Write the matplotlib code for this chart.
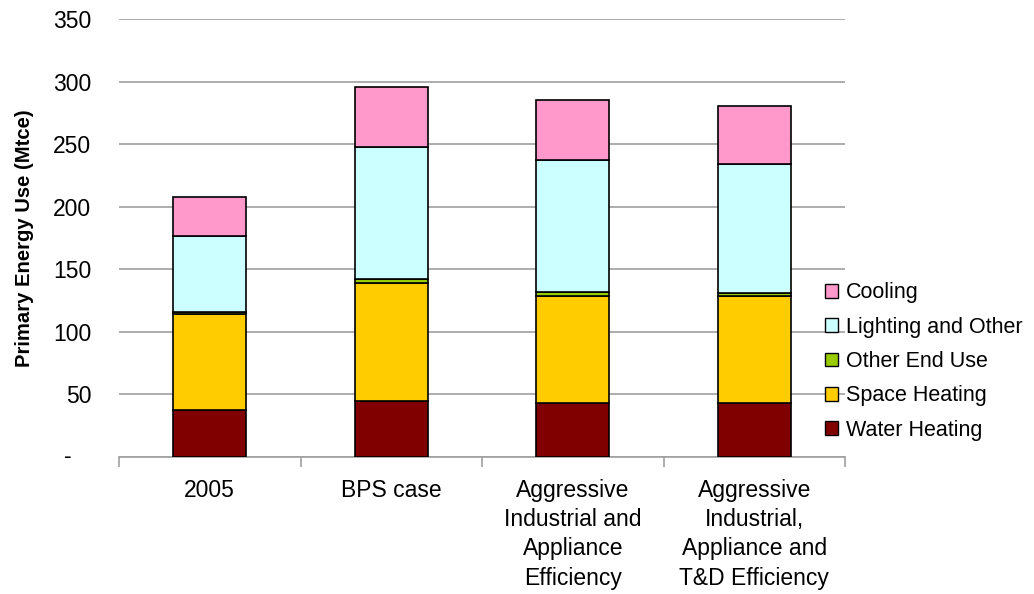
import numpy as np
import matplotlib.pyplot as plt
from matplotlib.patches import Patch

plt.rcParams['font.family'] = ['Liberation Sans', 'DejaVu Sans']

scenarios = ['2005', 'BPS case', 'Aggressive\nIndustrial and\nAppliance\nEfficiency',
             'Aggressive\nIndustrial,\nAppliance and\nT&D Efficiency']
water_heating = [37.5, 45, 43, 43]
space_heating = [77, 94, 86, 86]
other_end_use = [1.5, 3, 3, 2]
lighting_other = [60.5, 106, 105, 103.5]
cooling = [31, 48, 48, 46]

series = [('Water Heating', water_heating, '#800000'),
          ('Space Heating', space_heating, '#FFCC00'),
          ('Other End Use', other_end_use, '#99CC00'),
          ('Lighting and Other', lighting_other, '#CCFFFF'),
          ('Cooling', cooling, '#FF99CC')]

fig = plt.figure(figsize=(10.34, 5.94), dpi=100)
ax = fig.add_axes([119/1034, 1-457/594, 726/1034, 438/594])

x = np.arange(len(scenarios))
bottom = np.zeros(len(scenarios))
for name, vals, col in series:
    ax.bar(x, vals, 0.4, bottom=bottom, color=col, edgecolor='black', linewidth=1.2, zorder=3)
    bottom += np.array(vals)

ax.set_xlim(-0.5, len(scenarios) - 0.5)
ax.set_ylim(0, 350)
ax.set_yticks(range(0, 351, 50))
ax.set_yticklabels([''] + [str(v) for v in range(50, 351, 50)], fontsize=16.5)
ax.yaxis.grid(True, color='#A0A0A0', linewidth=1.2, zorder=0)
ax.tick_params(axis='y', length=0, pad=20)
# zero shown as a dash, further left (accounting format)
ax.annotate('-', xy=(0, 0), xycoords=('axes fraction', 'data'), xytext=(-47, 0),
            textcoords='offset pixels', ha='right', va='center', fontsize=16.5)

ax.set_xticks(x)
ax.set_xticklabels(scenarios, fontsize=16.5, linespacing=1.34)
ax.set_xticks(np.arange(-0.5, len(scenarios)), minor=True)
ax.tick_params(axis='x', which='major', length=0, pad=16)
ax.tick_params(axis='x', which='minor', length=7, color='#A0A0A0', width=1.2)

for s in ['top', 'right', 'left']:
    ax.spines[s].set_visible(False)
ax.spines['bottom'].set_color('#A0A0A0')
ax.spines['bottom'].set_linewidth(1.2)

ax.set_ylabel('Primary Energy Use (Mtce)', fontsize=14.6, fontweight='bold', labelpad=14)

handles = [Patch(facecolor=col, edgecolor='black', label=name) for name, vals, col in series[::-1]]
fig.legend(handles=handles, loc='center left', bbox_to_anchor=(814/1034, 1-361.5/594),
           frameon=False, fontsize=15.5, handlelength=0.6, handleheight=0.6,
           handletextpad=0.4, labelspacing=0.62, borderpad=0)

fig.savefig('out.png', dpi=100)
